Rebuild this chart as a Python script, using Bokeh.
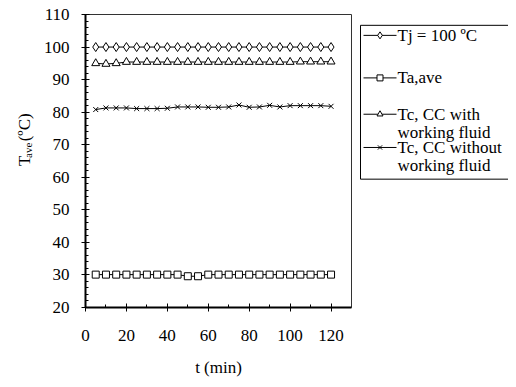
import math
from bokeh.plotting import figure
from bokeh.layouts import row
from bokeh.models import Label, FixedTicker, Range1d
from bokeh.embed import file_html
from bokeh.resources import INLINE

# ---- data ----
time_min = [5, 10, 15, 20, 25, 30, 35, 40, 45, 50, 55, 60,
            65, 70, 75, 80, 85, 90, 95, 100, 105, 110, 115, 120]
tj = [100, 100, 100, 100, 100, 100, 100, 100, 100, 100, 100, 100,
      100, 100, 100, 100, 100, 100, 100, 100, 100, 100, 100, 100]
ta_ave = [30.1, 30.1, 30.1, 30.1, 30.1, 30.1, 30.1, 30.1, 30.1, 29.6, 29.6, 30.1,
          30.1, 30.1, 30.1, 30.1, 30.1, 30.1, 30.1, 30.1, 30.1, 30.1, 30.1, 30.1]
tc_with = [95.0, 94.8, 95.0, 95.4, 95.4, 95.4, 95.4, 95.4, 95.4, 95.4, 95.4, 95.4,
           95.4, 95.4, 95.4, 95.4, 95.4, 95.4, 95.4, 95.4, 95.5, 95.5, 95.5, 95.5]
tc_without = [80.8, 81.3, 81.3, 81.3, 81.1, 81.1, 81.1, 81.2, 81.6, 81.6, 81.6, 81.5,
              81.5, 81.6, 82.2, 81.5, 81.6, 82.1, 81.6, 82.0, 82.0, 82.0, 82.0, 81.8]

series_labels = ["Tj = 100 \u00baC", "Ta,ave", "Tc, CC with\nworking fluid",
                 "Tc, CC without\nworking fluid"]
series_markers = ["diamond", "square", "triangle", "x"]
x_major = [0, 20, 40, 60, 80, 100, 120]
x_minor = [10, 30, 50, 70, 90, 110]
y_major = [20, 30, 40, 50, 60, 70, 80, 90, 100, 110]
y_minor = [v for v in range(20, 111, 2) if v % 10 != 0]
y_title = ["T", "ave", "(\u00baC)"]

# ---- layout / style constants ----
FONT = "Liberation Serif"
FS = "17px"
W = 508
H = 379
LW = 40            # strip holding the y-axis title
PW = 312           # main plot strip
GW = W - LW - PW   # legend strip
marker_sizes = [9, 7, 8, 7]
legend_marker_sizes = [7, 6, 6, 6]

# ---------- main plot ----------
p = figure(width=PW, height=H, output_backend="svg", toolbar_location=None,
           title=None,
           x_range=Range1d(0, 130), y_range=Range1d(20, 110),
           min_border_left=85 - LW, min_border_right=1, min_border_top=14,
           min_border_bottom=H - 308)
p.grid.visible = False
p.outline_line_color = "#333333"
p.outline_line_width = 1
p.background_fill_color = "white"
p.border_fill_color = "white"

for ax in (p.xaxis[0], p.yaxis[0]):
    ax.axis_line_width = 2
    ax.axis_line_color = "black"
    ax.major_tick_line_color = "black"
    ax.minor_tick_line_color = "black"
    ax.major_tick_line_width = 1
    ax.minor_tick_line_width = 1
    ax.major_tick_in = 4
    ax.major_tick_out = 4
    ax.minor_tick_in = 3
    ax.minor_tick_out = 0
    ax.major_label_text_font = FONT
    ax.major_label_text_font_size = FS
    ax.major_label_text_color = "black"
    ax.axis_label_text_font = FONT
    ax.axis_label_text_font_size = FS
    ax.axis_label_text_font_style = "normal"
    ax.axis_label_text_color = "black"

p.xaxis.ticker = FixedTicker(ticks=x_major, minor_ticks=x_minor)
p.yaxis.ticker = FixedTicker(ticks=y_major, minor_ticks=y_minor)
p.xaxis.major_label_standoff = 18
p.yaxis.major_label_standoff = 12
p.xaxis.axis_label = "t (min)"
p.xaxis.axis_label_standoff = 14

for yvals, mk, ms in zip([tj, ta_ave, tc_with, tc_without], series_markers,
                         marker_sizes):
    p.line(time_min, yvals, line_color="black", line_width=1)
    p.scatter(time_min, yvals, marker=mk, size=ms, line_color="black",
              fill_color="white", line_width=1)

def strip(width):
    f = figure(width=width, height=H, output_backend="svg", toolbar_location=None,
               title=None,
               x_range=Range1d(0, width), y_range=Range1d(0, H),
               x_axis_location=None, y_axis_location=None,
               min_border_left=0, min_border_right=0, min_border_top=0,
               min_border_bottom=0)
    f.grid.visible = False
    f.outline_line_color = None
    f.background_fill_color = "white"
    f.border_fill_color = "white"
    return f

# ---------- strip with the y-axis title (T with subscript "ave") ----------
t = strip(LW)
lab_common = dict(angle=math.pi / 2, text_font=FONT, text_color="black",
                  text_align="left", text_baseline="alphabetic")
base_x, base_y = 24, H - 196
t.add_layout(Label(x=base_x, y=base_y, text=y_title[0], text_font_size=FS, **lab_common))
t.add_layout(Label(x=base_x + 3, y=base_y + 10.5, text=y_title[1],
                   text_font_size="11px", **lab_common))
t.add_layout(Label(x=base_x, y=base_y + 32, text=y_title[2], text_font_size=FS,
                   **lab_common))

# ---------- legend strip (pixel coordinates, y measured upward) ----------
g = strip(GW)
box_left, box_top, box_bottom = 8, H - 14, H - 213
g.quad(left=box_left, right=GW + 20, top=box_top, bottom=box_bottom,
       fill_color=None, line_color="black", line_width=1)

row_y = [H - 27, H - 82, H - 129, H - 172]
line_gap = 23
sample_x0, sample_x1, text_x = 11, 44, 45
for lab, mk, ms, yy in zip(series_labels, series_markers, legend_marker_sizes, row_y):
    g.segment(x0=[sample_x0], y0=[yy], x1=[sample_x1], y1=[yy],
              line_color="black", line_width=1)
    g.scatter(x=[(sample_x0 + sample_x1) / 2], y=[yy], marker=mk, size=ms,
              line_color="black", fill_color="white", line_width=1)
    for k, part in enumerate(lab.split("\n")):
        g.add_layout(Label(x=text_x, y=yy - k * line_gap, text=part,
                           text_font=FONT, text_font_size=FS, text_color="black",
                           text_align="left", text_baseline="middle"))

layout = row(t, p, g, spacing=0)
open("out.html", "w").write(file_html(layout, INLINE))
